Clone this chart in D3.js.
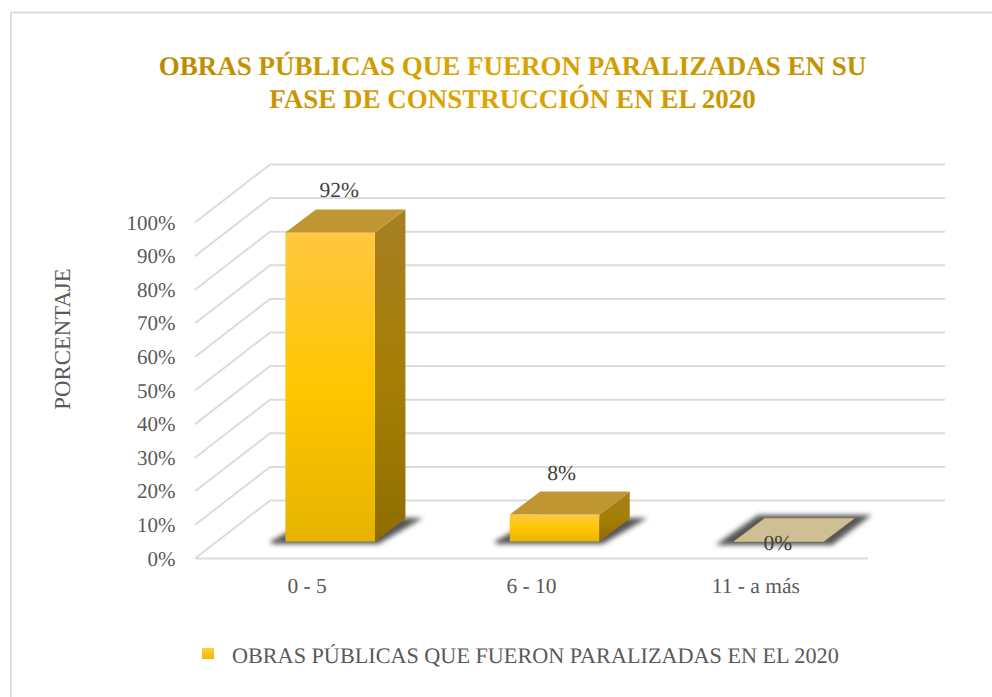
<!DOCTYPE html>
<html><head><meta charset="utf-8">
<script src="https://cdn.jsdelivr.net/npm/d3@7/dist/d3.min.js"></script>
<style>html,body{margin:0;padding:0;background:#fff}svg{display:block}text{font-family:"Liberation Serif",serif;text-rendering:geometricPrecision}</style>
</head><body><svg id="c" width="992" height="697"></svg>
<script>
const categories = ["0 - 5", "6 - 10", "11 - a más"];
const values = [92, 8, 0];
const valueLabels = ["92%", "8%", "0%"];
const labelShifts = [9, 7, -1];
const yTicks = [0,10,20,30,40,50,60,70,80,90,100];
const titleLines = ["OBRAS PÚBLICAS QUE FUERON PARALIZADAS EN SU", "FASE DE CONSTRUCCIÓN EN EL 2020"];
const legendLabel = "OBRAS PÚBLICAS QUE FUERON PARALIZADAS EN EL 2020";
const yAxisTitle = "PORCENTAJE";

const svg = d3.select("#c");
const defs = svg.append("defs");

const x = d3.scaleBand().domain(categories).range([195, 868]).paddingInner(0).paddingOuter(0);
const y = d3.scaleLinear().domain([0, 100]).range([558.5, 222.5]);
const barW = 89.5, dx = 75, dy = -58;
const barDx = 23, barDy = -17, boxDx = 30.5, boxDy = -23;

const grad = (id, stops) => {
  const g = defs.append("linearGradient").attr("id", id).attr("x1",0).attr("y1",0).attr("x2",0).attr("y2",1);
  stops.forEach(s => g.append("stop").attr("offset", s[0]).attr("stop-color", s[1]));
};
grad("front", [[0,"#FFC840"],[0.5,"#FFC600"],[1,"#E6B400"]]);
grad("side", [[0,"#A67F25"],[0.5,"#A67F05"],[1,"#8F6E00"]]);
grad("leg", [[0,"#FFD040"],[1,"#EDB800"]]);
const tg = defs.append("linearGradient").attr("id","titleGrad").attr("gradientUnits","userSpaceOnUse")
  .attr("x1",159).attr("x2",866).attr("y1",0).attr("y2",0);
[[0,"#B98A00"],[0.45,"#DDA500"],[1,"#BF9000"]].forEach(s=>tg.append("stop").attr("offset",s[0]).attr("stop-color",s[1]));
defs.append("filter").attr("id","blur").attr("x","-30%").attr("y","-60%").attr("width","160%").attr("height","220%")
  .append("feGaussianBlur").attr("stdDeviation",2.4);

svg.append("path").attr("d", d3.line()([[11,697],[11,12.5],[992,12.5]]))
  .attr("fill","none").attr("stroke","#DEDEDE").attr("stroke-width",2);

svg.append("g").selectAll("text").data(titleLines).join("text")
  .attr("x",512.5).attr("y",(d,i)=>75+i*33).attr("text-anchor","middle")
  .attr("font-size",27).attr("font-weight","bold").attr("fill","url(#titleGrad)").text(d=>d);

const grid = svg.append("g").attr("fill","none").attr("stroke","#DCDCDC").attr("stroke-width",2);
yTicks.forEach(t => {
  const yy = y(t);
  grid.append("path").attr("d", d3.line()([[x.range()[0],yy],[x.range()[0]+dx,yy+dy],[x.range()[1]+dx+2,yy+dy]]));
});
grid.append("line").attr("x1",x.range()[0]).attr("x2",x.range()[1]).attr("y1",y(0)).attr("y2",y(0));

svg.append("g").selectAll("text").data(yTicks).join("text")
  .attr("x",175.5).attr("y",d=>y(d)+7).attr("text-anchor","end")
  .attr("font-size",21).attr("fill","#595959").text(d=>d+"%");

svg.append("text").attr("transform","translate(70,339) rotate(-90)").attr("text-anchor","middle")
  .attr("font-size",22.8).attr("fill","#595959").text(yAxisTitle);

const bars = svg.append("g");
const data = categories.map((c,i)=>({c, v:values[i], label:valueLabels[i], shift:labelShifts[i]}));
const poly = pts => "M" + pts.map(p=>p.join(",")).join("L") + "Z";
data.forEach(d => {
  const x0 = x(d.c) + x.bandwidth()/2 - barW/2 + barDx, x1 = x0 + barW;
  const yb = y(0) + barDy, yt = yb - (y(0) - y(d.v));
  const g = bars.append("g");
  g.append("path").attr("filter","url(#blur)").attr("fill","#555").attr("stroke","#555").attr("stroke-width",3)
    .attr("d", d.v>0
      ? poly([[x0-14,yb+1],[x1+3,yb+1],[x1+boxDx+12,yb+boxDy+1],[x0+boxDx-2,yb+boxDy+1]])
      : poly([[x0-14,yb+2],[x1+8,yb+2],[x1+boxDx+13,yb+boxDy-2],[x0+boxDx-6,yb+boxDy-2]]));
  if (d.v > 0) {
    g.append("path").attr("fill","url(#side)").attr("d", poly([[x1,yt],[x1+boxDx,yt+boxDy],[x1+boxDx,yb+boxDy],[x1,yb]]));
    g.append("rect").attr("x",x0).attr("y",yt).attr("width",barW).attr("height",yb-yt).attr("fill","url(#front)");
  }
  g.append("path").attr("fill", d.v>0 ? "#C09633" : "#CFBF94")
    .attr("stroke", d.v>0 ? "none" : "#BFA970").attr("stroke-width",1)
    .attr("d", poly([[x0,yt],[x1,yt],[x1+boxDx,yt+boxDy],[x0+boxDx,yt+boxDy]]));
  g.append("text").attr("x",x0+barW/2+d.shift).attr("y", d.v>0 ? yt+boxDy-12 : yt+8)
    .attr("text-anchor","middle").attr("font-size",21.5).attr("fill","#404040").text(d.label);
});

svg.append("g").selectAll("text").data(categories).join("text")
  .attr("x",d=>x(d)+x.bandwidth()/2).attr("y",592.5).attr("text-anchor","middle")
  .attr("font-size",21.5).attr("fill","#595959").text(d=>d);

svg.append("rect").attr("x",202).attr("y",648).attr("width",12).attr("height",11).attr("fill","url(#leg)");
svg.append("text").attr("x",232).attr("y",663).attr("font-size",22.2).attr("fill","#595959").text(legendLabel);
</script></body></html>
